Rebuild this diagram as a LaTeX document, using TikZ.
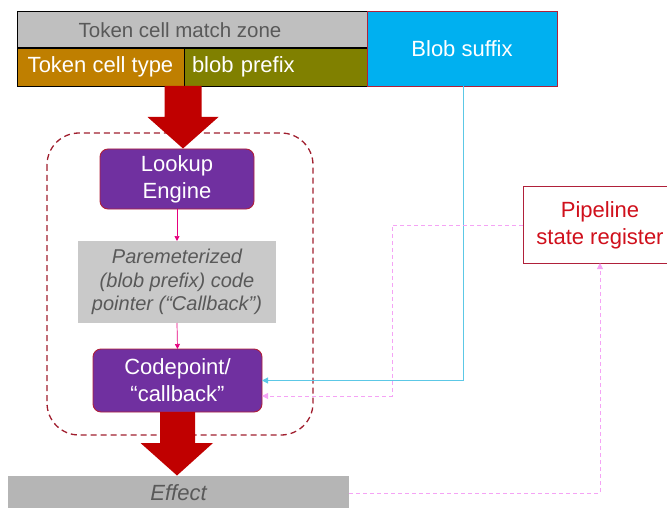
\documentclass[tikz,border=0pt]{standalone}
\usepackage{fontspec}
\setmainfont{Liberation Sans}
\usetikzlibrary{arrows.meta,calc}
\definecolor{zonegray}{HTML}{BFBFBF}
\definecolor{txtgray}{HTML}{595959}
\definecolor{typeorange}{HTML}{BF7F00}
\definecolor{prefixolive}{HTML}{808000}
\definecolor{suffixcyan}{HTML}{00B0F0}
\definecolor{bigred}{HTML}{C00000}
\definecolor{engpurple}{HTML}{7030A0}
\definecolor{boxred}{HTML}{B0203A}
\definecolor{dashred}{HTML}{A01E2E}
\definecolor{paramgray}{HTML}{C9C9C9}
\definecolor{effgray}{HTML}{B5B5B5}
\definecolor{magline}{HTML}{E6007E}
\definecolor{pinkdash}{HTML}{F5A3F5}
\definecolor{cyanline}{HTML}{5CC8E6}
\definecolor{regred}{HTML}{D0101C}
\begin{document}
\begin{tikzpicture}[x=1pt,y=-1pt,
  every node/.style={inner sep=0pt,outer sep=0pt},
  bigfont/.style={font=\fontsize{22}{27}\selectfont},
  barbox/.style={draw=black,line width=0.8pt,bigfont},
  purplebox/.style={draw=boxred,line width=0.9pt,fill=engpurple,rounded corners=8pt,text=white,align=center,bigfont},
  graybox/.style={text=txtgray,align=center,font=\fontsize{20}{23.5}\selectfont\itshape},
  smallarrow/.style={draw=magline,line width=0.7pt,-{Triangle[width=5pt,length=5pt]}},
  pinkline/.style={draw=pinkdash,line width=0.9pt,dash pattern=on 4pt off 3pt,-{Triangle[width=6pt,length=6pt]}},
  cyanconn/.style={draw=cyanline,line width=1pt,-{Triangle[width=6pt,length=6pt]}},
  bigarrowfill/.style={fill=bigred}
]
\useasboundingbox (0,0) rectangle (667,508);
\clip (0,0) rectangle (667,508);

% dashed container
\draw[dashred,line width=1.3pt,dash pattern=on 6pt off 4pt,rounded corners=32pt] (47,133) rectangle (313,435);

% top bar
\node[barbox,fill=zonegray,text=txtgray,minimum width=350pt,minimum height=37.5pt,font=\fontsize{20.5}{24}\selectfont] (zone) at (192,29.75) {\hspace*{-24pt}Token cell match zone};
\node[barbox,fill=typeorange,text=white,minimum width=167pt,minimum height=37.5pt] (ctype) at (100.5,67.25) {Token cell type};
\node[barbox,fill=prefixolive,text=white,inner xsep=8pt,text width=167pt,align=left,minimum height=37.5pt] (bprefix) at (275.5,67.25) {blob prefix};
\draw[black,line width=2pt] (zone.south west) -- (zone.south east);
\node[draw=boxred,line width=0.9pt,fill=suffixcyan,text=white,bigfont,minimum width=190pt,minimum height=75pt] (suffix) at (462,48.5) {Blob suffix};

% flow nodes
\node[purplebox,minimum width=154pt,minimum height=60pt] (lookup) at (177,179) {Lookup\\Engine};
\node[graybox,fill=paramgray,minimum width=198pt,minimum height=82pt] (param) at (177,282) {Paremeterized\\(blob prefix) code\\pointer (``Callback'')};
\node[purplebox,minimum width=169pt,minimum height=63pt] (codept) at (177.5,380.5) {Codepoint/\\``callback''};
\node[fill=effgray,text=txtgray,minimum width=341pt,minimum height=34pt,font=\fontsize{22}{26}\selectfont\itshape] (effect) at (178.5,493) {Effect};
\node[draw=boxred,line width=1pt,fill=white,text=regred,align=center,bigfont,minimum width=154pt,minimum height=76pt] (pipeline) at (600,225) {Pipeline\\state register};

% big red arrows
\fill[bigarrowfill] (164.5,86) -- (201.5,86) -- (201.5,117) -- (218.5,117) -- (183,148.5) -- (147.5,117) -- (164.5,117) -- cycle;
\fill[bigarrowfill] (160,412) -- (195,412) -- (195,443) -- (213,443) -- (177,475.5) -- (140.5,443) -- (160,443) -- cycle;

% small connectors
\draw[smallarrow] (lookup.south) -- (param.north);
\draw[smallarrow] (param.south) -- (codept.north);

% cyan connector
\coordinate (sfx) at ($(suffix.south)+(1,0)$);
\draw[cyanconn] (sfx) |- (codept.east);

% pink dashed connectors
\coordinate (cp2) at ($(codept.east)+(0,15.5)$);
\draw[pinkline] (pipeline.west) -- ++(-131,0) |- (cp2);
\draw[pinkline] (effect.east) -| (pipeline.south);
\end{tikzpicture}
\end{document}
